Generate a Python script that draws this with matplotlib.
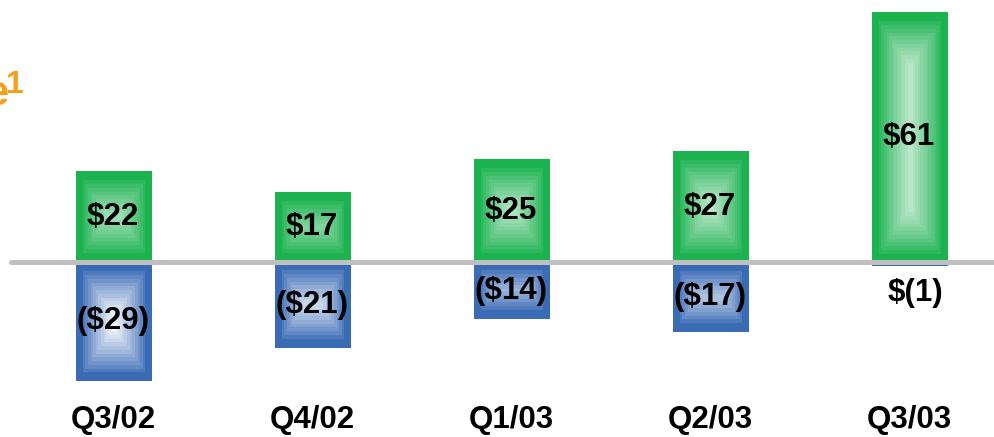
import numpy as np
import matplotlib
matplotlib.use("Agg")
import matplotlib.pyplot as plt
from matplotlib.colors import LinearSegmentedColormap

quarters = ["Q3/02", "Q4/02", "Q1/03", "Q2/03", "Q3/03"]
positive = [22, 17, 25, 27, 61]
negative = [-29, -21, -14, -17, -1]
pos_labels = ["$22", "$17", "$25", "$27", "$61"]
neg_labels = ["($29)", "($21)", "($14)", "($17)", "$(1)"]

W, H = 994, 437
fig = plt.figure(figsize=(W / 100, H / 100), dpi=100)
ax = fig.add_axes([0, 0, 1, 1])
x_left = -0.568
ax.set_xlim(x_left, x_left + W / 199)
scale = 250 / 61.0
ax.set_ylim(-(H - 262) / scale, 262 / scale)
ax.axis("off")

green = LinearSegmentedColormap.from_list("g", ["#1bb24f", "#b8e6c8"])
blue = LinearSegmentedColormap.from_list("b", ["#3a6bb5", "#f0f4fb"])

width = 0.377
xs = np.arange(len(quarters))
bars_p = ax.bar(xs, positive, width=width, color="none", zorder=2)
bars_n = ax.bar(xs, negative, width=width, color="none", zorder=2)


def pillow(bar, cmap):
    x0, y0 = bar.get_x(), bar.get_y()
    w, h = bar.get_width(), bar.get_height()
    pw = w * 199
    ph = abs(h) * scale
    nx, ny = max(int(pw), 2), max(int(ph), 2)
    px = (np.arange(nx) + 0.5)
    py = (np.arange(ny) + 0.5)
    dx = np.minimum(px, pw - px)[None, :]
    dy = np.minimum(py, ph - py)[:, None]
    d = np.minimum(dx, dy * 0.7)
    t = np.clip((d - 4) / (pw / 2 - 6), 0, 1)
    t = np.floor(t * 12) / 12
    t = t ** 0.85
    ylo, yhi = sorted([y0, y0 + h])
    ax.imshow(t, cmap=cmap, vmin=0, vmax=1, extent=[x0, x0 + w, ylo, yhi],
              aspect="auto", interpolation="nearest", zorder=2)


for b in bars_p:
    pillow(b, green)
for b in bars_n:
    pillow(b, blue)

ax.plot([x_left + 11 / 199, x_left + W / 199], [0, 0], color="#c0c0c0",
        linewidth=3.6, solid_capstyle="round", zorder=3)

font = dict(family=["Liberation Sans", "DejaVu Sans"], fontweight="bold", fontsize=22.5, color="black")
for x, v, lab in zip(xs, positive, pos_labels):
    ax.text(x, v / 2, lab, ha="center", va="center", zorder=4, **font)
for x, v, lab in zip(xs, negative, neg_labels):
    if abs(v) < 3:
        ax.text(x + 0.03, -7.6, lab, ha="center", va="center", zorder=4, **font)
    else:
        ax.text(x, v / 2, lab, ha="center", va="center", zorder=4, **font)

for x, q in zip(xs, quarters):
    ax.text(x, -(420 - 262) / scale, q, ha="center", va="center", **font)

fig.text(8.5 / W, 1 - 105 / H, "e", ha="right", va="baseline", color="#f5a01a",
         fontsize=30, fontweight="bold", family=["Liberation Sans", "DejaVu Sans"])
fig.text(6 / W, 1 - 93 / H, "1", ha="left", va="baseline", color="#f5a01a",
         fontsize=23, fontweight="bold", family=["Liberation Sans", "DejaVu Sans"])

fig.savefig("out.png", dpi=100)
